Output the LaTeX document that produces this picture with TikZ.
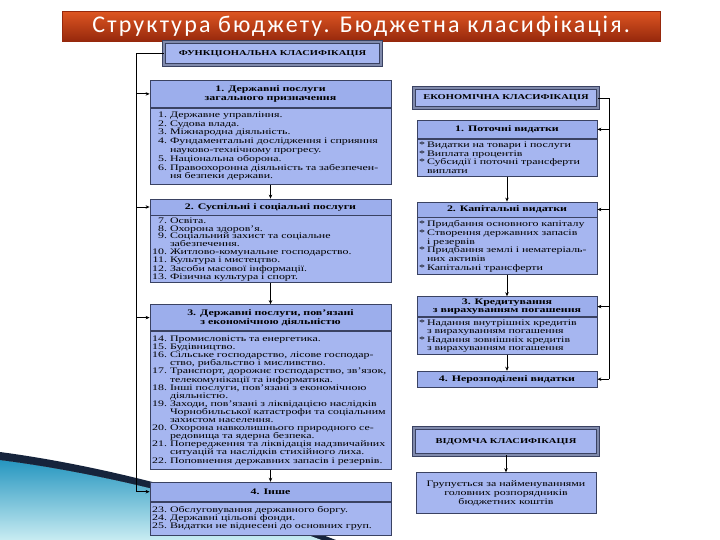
\documentclass[tikz,border=0pt]{standalone}
\usepackage{fontspec}
\setmainfont{Liberation Serif}[FakeStretch=1.4]
\newfontfamily\titlefont{Carlito}[LetterSpace=9]
\usetikzlibrary{arrows.meta,positioning}
\definecolor{boxcolor}{RGB}{166,182,240}
\definecolor{headcolor}{RGB}{156,174,236}
\definecolor{edgecolor}{RGB}{58,66,98}
\definecolor{framecolor}{RGB}{128,138,172}
\definecolor{barcolor}{RGB}{222,86,34}
\definecolor{bardark}{RGB}{150,40,12}
\definecolor{swoosh}{RGB}{38,150,192}
\definecolor{swooshlight}{RGB}{200,236,242}
\definecolor{swooshdark}{RGB}{22,36,60}
\newcommand{\itm}[1]{\makebox[15bp][r]{#1}\hspace{3bp}}
\newcommand{\bul}{\makebox[8bp][l]{*}}

\begin{document}
\begin{tikzpicture}[
    x=1bp, y=-1bp,
    node distance=14bp,
    head/.style={rectangle, draw=edgecolor, fill=headcolor, line width=0.8bp, inner sep=1bp, align=center, font=\fontsize{8.5bp}{8.6bp}\selectfont\bfseries},
    body/.style={rectangle, draw=edgecolor, fill=boxcolor, line width=0.8bp, inner xsep=2bp, inner ysep=1bp, align=left, font=\fontsize{8.5bp}{#1}\selectfont},
    lhead/.style={head, minimum width=241bp},
    lbody/.style={body=#1, text width=237bp},
    rhead/.style={head, minimum width=180bp},
    rbody/.style={body=#1, text width=176bp},
    kind/.style={rectangle, draw=edgecolor, double=framecolor, double distance=2.4bp, line width=0.6bp, fill=boxcolor, font=\fontsize{7.5bp}{8bp}\selectfont\bfseries},
    arrow/.style={-{Stealth[length=4bp,width=3.5bp]}, line width=0.9bp},
    link/.style={line width=0.9bp}
]
\useasboundingbox[fill=white] (0,0) rectangle (720,540);

% Swoosh
\fill[top color=swoosh, bottom color=swooshlight] (0,460) .. controls (110,474) and (230,506) .. (322,540) -- (0,540) -- cycle;
\fill[swooshdark] (0,452) .. controls (120,468) and (240,504) .. (336,540) -- (322,540) .. controls (230,506) and (110,474) .. (0,460) -- cycle;

% Title
\node[top color=barcolor, bottom color=bardark, draw=bardark, minimum width=598bp, minimum height=30bp, anchor=north west] (title) at (62,11) {};
\node[text=white, font=\titlefont\fontsize{24bp}{26bp}\selectfont] (titletext) at (title.center) {Структура бюджету. Бюджетна класифікація.};

% Functional
\node[kind, minimum width=217bp, minimum height=23bp] (func) at (272.5,53.5) {ФУНКЦІОНАЛЬНА КЛАСИФІКАЦІЯ};

\node[lhead, minimum height=27bp, anchor=north] (head1) at (270.5,80) {1. Державні послуги\\загального призначення};
\node[lbody=8.8bp, minimum height=76bp, below=0bp of head1] (body1) {%
\itm{1.}Державне управління.\\
\itm{2.}Судова влада.\\
\itm{3.}Міжнародна діяльність.\\
\itm{4.}Фундаментальні дослідження і сприяння\\
\itm{}науково-технічному прогресу.\\
\itm{5.}Національна оборона.\\
\itm{6.}Правоохоронна діяльність та забезпечен-\\
\itm{}ня безпеки держави.};

\node[lhead, minimum height=16bp, below=of body1] (head2) {2. Суспільні і соціальні послуги};
\node[lbody=7.8bp, minimum height=67bp, below=0bp of head2] (body2) {%
\itm{7.}Освіта.\\
\itm{8.}Охорона здоров’я.\\
\itm{9.}Соціальний захист та соціальне\\
\itm{}забезпечення.\\
\itm{10.}Житлово-комунальне господарство.\\
\itm{11.}Культура і мистецтво.\\
\itm{12.}Засоби масової інформації.\\
\itm{13.}Фізична культура і спорт.};

\node[lhead, minimum height=26bp, below=21bp of body2] (head3) {3. Державні послуги, пов’язані\\з економічною діяльністю};
\node[lbody=8.1bp, minimum height=138bp, below=0bp of head3] (body3) {%
\itm{14.}Промисловість та енергетика.\\
\itm{15.}Будівництво.\\
\itm{16.}Сільське господарство, лісове господар-\\
\itm{}ство, рибальство і мисливство.\\
\itm{17.}Транспорт, дорожнє господарство, зв’язок,\\
\itm{}телекомунікації та інформатика.\\
\itm{18.}Інші послуги, пов’язані з економічною\\
\itm{}діяльністю.\\
\itm{19.}Заходи, пов’язані з ліквідацією наслідків\\
\itm{}Чорнобильської катастрофи та соціальним\\
\itm{}захистом населення.\\
\itm{20.}Охорона навколишнього природного се-\\
\itm{}редовища та ядерна безпека.\\
\itm{21.}Попередження та ліквідація надзвичайних\\
\itm{}ситуацій та наслідків стихійного лиха.\\
\itm{22.}Поповнення державних запасів і резервів.};

\node[lhead, minimum height=19bp, below=12bp of body3] (head4) {4. Інше};
\node[lbody=8bp, minimum height=33bp, below=0bp of head4] (body4) {%
\itm{23.}Обслуговування державного боргу.\\
\itm{24.}Державні цільові фонди.\\
\itm{25.}Видатки не віднесені до основних груп.};

% Economic
\node[kind, minimum width=184bp, minimum height=20bp] (econ) at (506,98) {ЕКОНОМІЧНА КЛАСИФІКАЦІЯ};

\node[rhead, minimum height=18bp, anchor=north] (rhead1) at (507,120) {1. Поточні видатки};
\node[rbody=8.5bp, minimum height=37bp, below=0bp of rhead1] (rbody1) {%
\bul Видатки на товари і послуги\\
\bul Виплата процентів\\
\bul Субсидії і поточні трансферти\\
\hspace*{8bp}виплати};

\node[rhead, minimum height=15bp, below=25bp of rbody1] (rhead2) {2. Капітальні видатки};
\node[rbody=8.8bp, minimum height=57bp, below=0bp of rhead2] (rbody2) {%
\bul Придбання основного капіталу\\
\bul Створення державних запасів\\
\hspace*{8bp}і резервів\\
\bul Придбання землі і нематеріаль-\\
\hspace*{8bp}них активів\\
\bul Капітальні трансферти};

\node[rhead, minimum height=20bp, below=21bp of rbody2] (rhead3) {3. Кредитування\\з вирахуванням погашення};
\node[rbody=8.5bp, minimum height=37bp, below=0bp of rhead3] (rbody3) {%
\bul Надання внутрішніх кредитів\\
\hspace*{8bp}з вирахуванням погашення\\
\bul Надання зовнішніх кредитів\\
\hspace*{8bp}з вирахуванням погашення};

\node[rhead, minimum height=16bp, below=16bp of rbody3] (rhead4) {4. Нерозподілені видатки};

% Departmental
\node[kind, minimum width=184bp, minimum height=27bp] (vidom) at (506,441.5) {ВІДОМЧА КЛАСИФІКАЦІЯ};
\node[body=9bp, align=center, minimum width=180bp, minimum height=41bp, below=17bp of vidom] (group) {Групується за найменуваннями\\головних розпорядників\\бюджетних коштів};

% Arrows
\foreach \source/\dest in {body1/head2, body2/head3, body3/head4, rbody1/rhead2, rbody2/rhead3, rbody3/rhead4, vidom/group} {
    \draw[arrow] (\source) -- (\dest);
}
\draw[link] (func.west) -- ++(-27,0) coordinate (lcorner) -- (lcorner |- head4.west);
\foreach \dest in {head1, head2, head3, head4} {
    \draw[arrow] (lcorner |- \dest.west) -- (\dest.west);
}
\draw[link] (econ.east) -- ++(11,0) coordinate (rcorner) -- (rcorner |- rhead4.east);
\foreach \dest in {rhead1, rhead2, rhead3, rhead4} {
    \draw[arrow] (rcorner |- \dest.east) -- (\dest.east);
}

\end{tikzpicture}
\end{document}
